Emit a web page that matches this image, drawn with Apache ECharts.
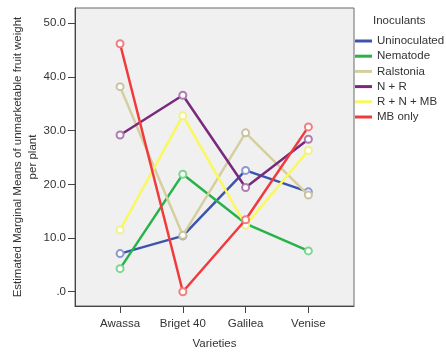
<!DOCTYPE html>
<html>
<head>
<meta charset="utf-8">
<script src="https://cdn.jsdelivr.net/npm/echarts@6/dist/echarts.min.js"></script>
<style>
html,body{margin:0;padding:0;background:#fff;}
#chart{width:446px;height:360px;}
</style>
</head>
<body>
<div id="chart"></div>
<script>
var categories = ["Awassa", "Briget 40", "Galilea", "Venise"];
var seriesNames = ["Uninoculated", "Nematode", "Ralstonia", "N + R", "R + N + MB", "MB only"];
var uninoculated = [7.1, 10.4, 22.6, 18.6];
var nematode = [4.3, 21.9, 12.7, 7.6];
var ralstonia = [38.2, 10.5, 29.6, 18.0];
var nPlusR = [29.2, 36.6, 19.4, 28.4];
var rnmb = [11.5, 32.8, 12.4, 26.3];
var mbOnly = [46.2, 0.0, 13.4, 30.7];
var yTicks = [0, 10, 20, 30, 40, 50];

var values = [uninoculated, nematode, ralstonia, nPlusR, rnmb, mbOnly];
var lineColors = ["#3d54ae", "#27b34a", "#d5cf9f", "#792a7d", "#f9f85c", "#f23a3d"];
var markerColors = ["#8c98d6", "#7ed58f", "#c9c3a0", "#b07ab3", "#f2f08a", "#f07f82"];

var chart = echarts.init(document.getElementById('chart'), null, {renderer: 'canvas'});
var font = "'Liberation Sans', Arial, sans-serif";
var fs = 11.5;

var series = values.map(function (arr, i) {
  return {
    name: seriesNames[i],
    type: 'line',
    data: arr.map(function (v, j) { return [j, v]; }),
    symbol: 'emptyCircle',
    symbolSize: 7,
    lineStyle: {color: lineColors[i], width: 2.5},
    itemStyle: {color: markerColors[i], borderWidth: 1},
    emphasis: {disabled: true},
    z: 2 + i
  };
});

chart.setOption({
  animation: false,
  backgroundColor: '#fff',
  grid: {left: 75, top: 8, right: 92, bottom: 54, show: true, backgroundColor: '#f0f0f0', borderColor: '#6a6a6a', borderWidth: 1},
  title: {text: 'Inoculants', left: 368, top: 10, textStyle: {fontFamily: font, fontSize: fs, fontWeight: 'normal', color: '#333'}},
  legend: {
    orient: 'vertical', left: 355, top: 35, padding: 0,
    icon: 'rect', itemWidth: 17, itemHeight: 3, itemGap: 3.2,
    data: seriesNames.map(function (n, i) {
      return {name: n, itemStyle: {color: lineColors[i], borderWidth: 0}};
    }),
    textStyle: {fontFamily: font, fontSize: fs, color: '#333'},
    selectedMode: false
  },
  xAxis: {
    type: 'value', min: -0.718, max: 3.727,
    name: 'Varieties', nameLocation: 'middle', nameGap: 32,
    nameTextStyle: {fontFamily: font, fontSize: fs, color: '#333'},
    axisLine: {show: true, onZero: false, lineStyle: {color: '#444', width: 1}},
    axisTick: {show: true, customValues: [0, 1, 2, 3], length: 7, lineStyle: {color: '#444'}},
    axisLabel: {customValues: [0, 1, 2, 3], formatter: function (v) { return categories[Math.round(v)]; }, fontFamily: font, fontSize: fs, color: '#333', margin: 12},
    splitLine: {show: false}
  },
  yAxis: {
    type: 'value', min: -2.66, max: 52.85,
    name: 'Estimated Marginal Means of unmarketable fruit weight\nper plant',
    nameLocation: 'middle', nameGap: 35, nameRotate: 90, nameMoveOverlap: false,
    nameTextStyle: {fontFamily: font, fontSize: fs, color: '#333', lineHeight: 14.5},
    axisLine: {show: true, onZero: false, lineStyle: {color: '#444', width: 1}},
    axisTick: {show: true, customValues: yTicks, length: 7, lineStyle: {color: '#444'}},
    axisLabel: {customValues: yTicks, formatter: function (v) { return v === 0 ? '.0' : v.toFixed(1); }, fontFamily: font, fontSize: fs, color: '#333', margin: 9},
    splitLine: {show: false}
  },
  series: series
});
</script>
</body>
</html>
